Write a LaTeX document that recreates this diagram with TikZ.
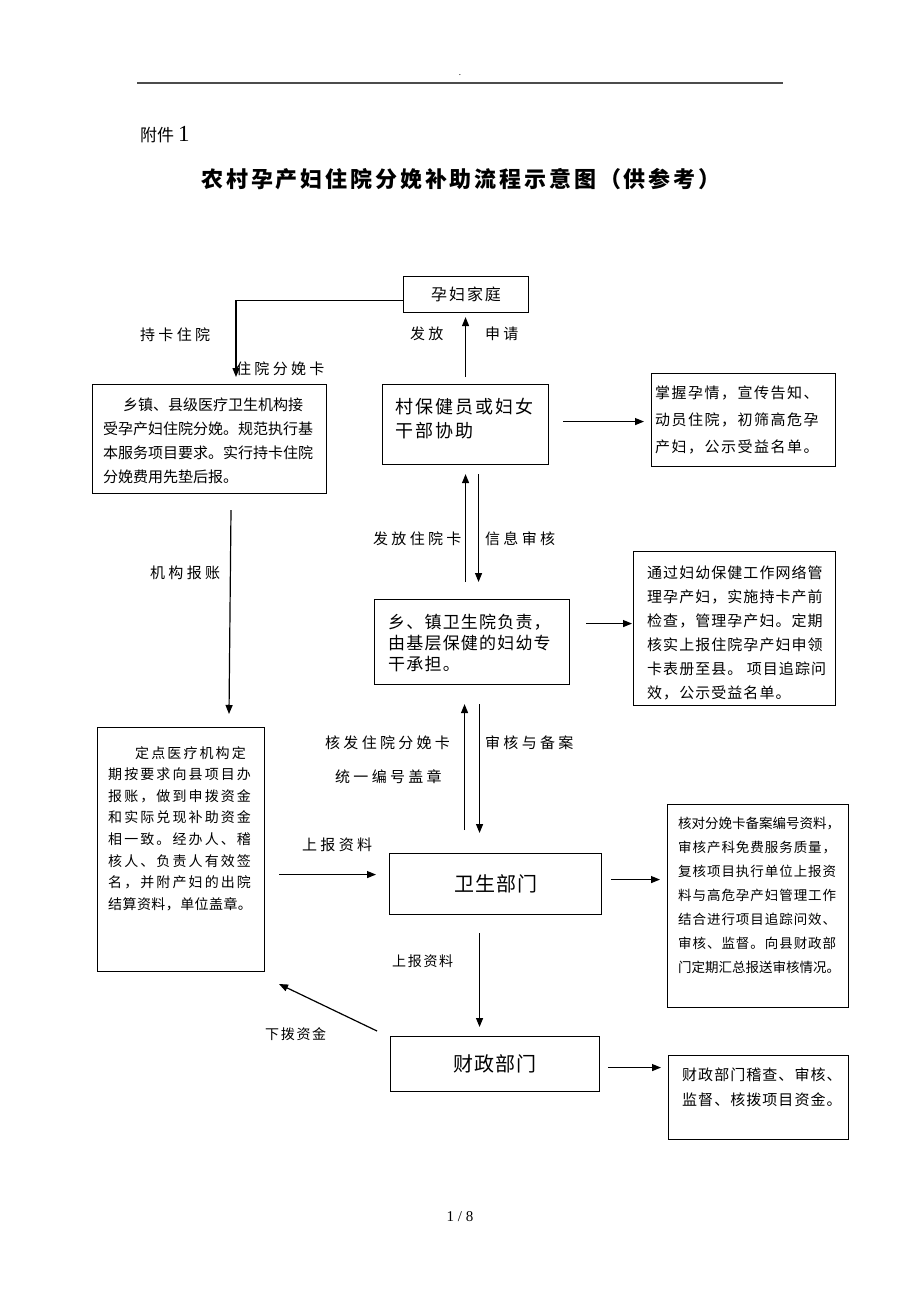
\documentclass[tikz,border=0pt]{standalone}
\usepackage{fontspec}
\setmainfont{Noto Sans CJK SC}
\newfontfamily\latin{Liberation Serif}
\usetikzlibrary{arrows.meta}

\begin{document}
\begin{tikzpicture}[x=1pt,y=-1pt,
    box/.style={draw, line width=1.1pt, inner sep=0pt},
    txt/.style={anchor=north west, align=left, inner sep=0pt},
    lbl/.style={anchor=west, inner sep=0pt, font=\fontsize{15}{15}\selectfont\addfontfeature{LetterSpace=22}},
    slbl/.style={anchor=west, inner sep=0pt, font=\fontsize{14}{14}\selectfont\addfontfeature{LetterSpace=12}},
    arr/.style={-{Triangle[length=9pt,width=7pt]}, line width=1.2pt}]
    \fill[white] (0,0) rectangle (920,1302);
    \useasboundingbox (0,0) rectangle (920,1302);

    \draw[line width=1.4pt, black!70] (137,83) -- (783,83);
    \node[inner sep=0pt, font=\fontsize{8}{8}\selectfont] (dot) at (460,75) {.};
    \node[anchor=west, inner sep=0pt, font=\fontsize{17}{17}\selectfont] (fujian) at (140,135) {附件\hspace{4pt}{\latin\fontsize{23}{23}\selectfont 1}};
    \node[inner sep=0pt, font=\fontsize{22}{22}\selectfont\bfseries\addfontfeature{LetterSpace=13}] (title) at (461,179) {农村孕产妇住院分娩补助流程示意图（供参考）};

    \node[box, anchor=north west, minimum width=125pt, minimum height=36pt, font=\fontsize{16}{16}\selectfont\addfontfeature{LetterSpace=12}] (home) at (403,276) {孕妇家庭};

    \node[box, anchor=north west, minimum width=166pt, minimum height=80pt] (cun) at (382,384) {};
    \node[txt, font=\fontsize{18}{24}\selectfont\addfontfeature{LetterSpace=11}] (cuntext) at (395,398) {村保健员或妇女\\干部协助};

    \node[box, anchor=north west, minimum width=234pt, minimum height=109pt] (left1) at (92,384) {};
    \node[txt, font=\fontsize{15}{24}\selectfont] (left1text) at (103,398) {\hspace*{20pt}乡镇、县级医疗卫生机构接\\受孕产妇住院分娩。规范执行基\\本服务项目要求。实行持卡住院\\分娩费用先垫后报。};

    \node[box, anchor=north west, minimum width=184pt, minimum height=93pt] (right1) at (651,373) {};
    \node[txt, font=\fontsize{15}{27}\selectfont\addfontfeature{LetterSpace=10}] (right1text) at (655,386) {掌握孕情，宣传告知、\\动员住院，初筛高危孕\\产妇，公示受益名单。};

    \node[box, anchor=north west, minimum width=195pt, minimum height=85pt] (xiang) at (374,599) {};
    \node[txt, font=\fontsize{17}{21}\selectfont\addfontfeature{LetterSpace=7}] (xiangtext) at (388,614) {乡、镇卫生院负责，\\由基层保健的妇幼专\\干承担。};

    \node[box, anchor=north west, minimum width=202pt, minimum height=154pt] (right2) at (633,551) {};
    \node[txt, font=\fontsize{15}{24}\selectfont\addfontfeature{LetterSpace=7}] (right2text) at (647,565) {通过妇幼保健工作网络管\\理孕产妇，实施持卡产前\\检查，管理孕产妇。定期\\核实上报住院孕产妇申领\\卡表册至县。 项目追踪问\\效，公示受益名单。};

    \node[box, anchor=north west, minimum width=167pt, minimum height=244pt] (left2) at (97,727) {};
    \node[txt, font=\fontsize{14}{21.6}\selectfont\addfontfeature{LetterSpace=15}] (left2text) at (108,746) {\hspace*{27pt}定点医疗机构定\\期按要求向县项目办\\报账，做到申拨资金\\和实际兑现补助资金\\相一致。经办人、稽\\核人、负责人有效签\\名，并附产妇的出院\\{\addfontfeature{LetterSpace=3}结算资料，单位盖章。}};

    \node[box, anchor=north west, minimum width=212pt, minimum height=61pt, font=\fontsize{20}{20}\selectfont\addfontfeature{LetterSpace=5}] (wsbm) at (389,853) {卫生部门};

    \node[box, anchor=north west, minimum width=181pt, minimum height=203pt] (right3) at (667,804) {};
    \node[txt, font=\fontsize{13.5}{24}\selectfont\addfontfeature{LetterSpace=7}] (right3text) at (678,817) {{\addfontfeature{LetterSpace=0}核对分娩卡备案编号资料，}\\审核产科免费服务质量，\\复核项目执行单位上报资\\料与高危孕产妇管理工作\\结合进行项目追踪问效、\\审核、监督。向县财政部\\{\addfontfeature{LetterSpace=0}门定期汇总报送审核情况。}};

    \node[box, anchor=north west, minimum width=209pt, minimum height=55pt, font=\fontsize{20}{20}\selectfont\addfontfeature{LetterSpace=5}] (czbm) at (390,1036) {财政部门};

    \node[box, anchor=north west, minimum width=180pt, minimum height=84pt] (right4) at (668,1055) {};
    \node[txt, font=\fontsize{15}{25}\selectfont\addfontfeature{LetterSpace=7}] (right4text) at (682,1068) {财政部门稽查、审核、\\监督、核拨项目资金。};

    \coordinate (cardtip) at (236,377);
    \coordinate (jga) at (231,510);
    \coordinate (jgb) at (229,714);
    \coordinate (xba) at (377,1031);
    \coordinate (xbb) at (279,984);
    \coordinate (sb) at ([yshift=9.5pt]wsbm.west);

    \draw[arr] ([yshift=-6pt]home.west) -| (cardtip);
    \draw[arr, shorten <=7pt, shorten >=4pt] (cun.north) -- (cun.north |- home.south);
    \draw[arr, shorten <=17pt, shorten >=9pt] (xiang.north -| cun.south) -- (cun.south);
    \draw[arr, shorten <=9pt, shorten >=17pt] ([xshift=13pt]cun.south) -- ([xshift=13pt]cun.south |- xiang.north);
    \draw[arr, shorten <=23pt, shorten >=19pt] ([xshift=-7.5pt]xiang.south |- wsbm.north) -- ([xshift=-7.5pt]xiang.south);
    \draw[arr, shorten <=19pt, shorten >=20pt] ([xshift=7.5pt]xiang.south) -- ([xshift=7.5pt]xiang.south |- wsbm.north);
    \draw[arr, shorten <=18pt, shorten >=9pt] ([xshift=-16pt]wsbm.south) -- ([xshift=-16pt]wsbm.south |- czbm.north);
    \draw[arr, shorten <=14pt, shorten >=13pt] (left2.east |- sb) -- (sb);
    \draw[arr] (jga) -- (jgb);
    \draw[arr] (xba) -- (xbb);
    \draw[arr, shorten <=14pt, shorten >=7pt] ([yshift=3pt]cun.east) -- ([yshift=3pt]cun.east -| right1.west);
    \draw[arr, shorten <=16pt, shorten >=1pt] ([yshift=18.5pt]xiang.east) -- ([yshift=18.5pt]xiang.east -| right2.west);
    \draw[arr, shorten <=9pt, shorten >=7pt] ([yshift=4.5pt]wsbm.east) -- ([yshift=4.5pt]wsbm.east -| right3.west);
    \draw[arr, shorten <=8pt, shorten >=7pt] ([yshift=-3.5pt]czbm.east) -- ([yshift=-3.5pt]czbm.east -| right4.west);

    \node[lbl] (chika) at (140,335) {持卡住院};
    \node[lbl] (zyfmk) at (236,369) {住院分娩卡};
    \node[lbl] (fafang) at (410,334) {发放};
    \node[lbl] (shenqing) at (485,334) {申请};
    \node[lbl] (jgbz) at (150,573) {机构报账};
    \node[lbl] (ffzyk) at (373,539) {发放住院卡};
    \node[lbl] (xxsh) at (485,539) {信息审核};
    \node[lbl] (hfzy) at (325,743) {核发住院分娩卡};
    \node[lbl] (tybh) at (335,777) {统一编号盖章};
    \node[lbl] (shba) at (485,743) {审核与备案};
    \node[lbl] (sbzl) at (302,845) {上报资料};
    \node[slbl] (sbzl2) at (392,961) {上报资料};
    \node[slbl] (xbzj) at (265,1034) {下拨资金};

    \node[inner sep=0pt, font=\latin\fontsize{15}{15}\selectfont] (page) at (460,1217) {1 / 8};
\end{tikzpicture}
\end{document}
